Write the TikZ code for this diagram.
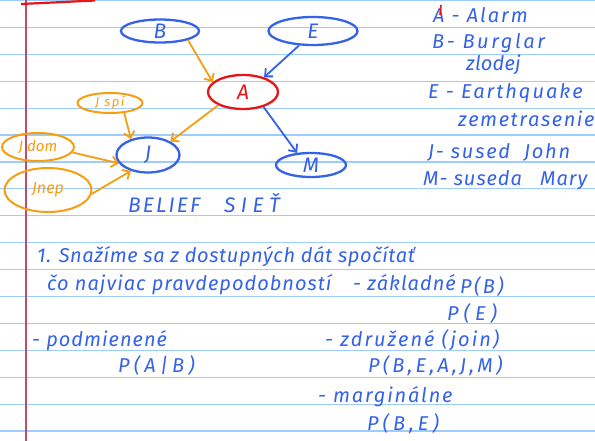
\documentclass[tikz,border=0pt]{standalone}
\usepackage{fontspec}
\setmainfont{Fira Sans}
\usetikzlibrary{shapes.geometric,arrows.meta}

\definecolor{ink}{RGB}{52,98,232}
\definecolor{pen}{RGB}{246,158,18}
\definecolor{alarmred}{RGB}{232,20,24}
\definecolor{rule}{RGB}{158,204,252}
\definecolor{margin}{RGB}{196,74,108}
\newcommand{\spc}[1]{\addfontfeature{LetterSpace=#1}}

\begin{document}
\begin{tikzpicture}[x=1pt,y=-1pt]
	 \tikzstyle{vertex}=[ellipse,draw,line width=2.3pt,inner sep=0pt,font=\fontsize{21}{21}\selectfont\itshape]
	 \tikzstyle{var}=[vertex,draw=ink,text=ink]
	 \tikzstyle{alarm}=[vertex,draw=alarmred,text=alarmred]
	 \tikzstyle{cause}=[vertex,draw=pen,text=pen,line width=2pt,font=\fontsize{13}{13}\selectfont\itshape]
	 \tikzstyle{edge}=[draw,line width=1.8pt,-{Straight Barb[length=6pt,width=11pt]}]
	 \tikzstyle{note}=[anchor=base west,inner sep=0pt,text=ink,font=\fontsize{20}{22}\selectfont\itshape]
	 \useasboundingbox[fill=white] (0,0) rectangle (595,441);
	 \foreach \k in {0,...,16}
	   \draw[rule,line width=1.2pt] (0,26.9*\k+0.6) -- (595,26.9*\k+0.6);
	 \draw[margin,line width=1.2pt] (26,0) -- (26,441);
	 \draw[alarmred,line width=2.2pt] (21,4) -- (95,0.5);
	 % belief network
	 \node[var,minimum width=78pt,minimum height=23pt] (b) at (160,31) {B};
	 \node[var,minimum width=89pt,minimum height=28pt] (e) at (313,31) {E};
	 \node[alarm,minimum width=70pt,minimum height=34pt] (a) at (243,92) {A};
	 \node[var,minimum width=63pt,minimum height=35pt] (j) at (148,155) {J};
	 \node[var,minimum width=70pt,minimum height=24pt] (m) at (311,165) {M};
	 \node[cause,minimum width=65pt,minimum height=20pt] (jspi) at (110,103) {{\spc{12}J spí}};
	 \node[cause,minimum width=72pt,minimum height=28pt,font=\fontsize{15}{15}\selectfont\itshape] (jdom) at (38,147) {J dom};
	 \node[cause,minimum width=87pt,minimum height=44pt,font=\fontsize{16}{16}\selectfont\itshape] (jnep) at (48,190) {Jnep};
	 \draw[edge,pen] (b.-18) -- (a.162);
	 \draw[edge,ink] (e.-134) -- (a.35);
	 \draw[edge,pen] (a.-152) -- (j.31);
	 \draw[edge,ink] (a.-36) -- (m.139);
	 \draw[edge,pen] (jspi.-35) -- (j.137);
	 \draw[edge,pen] (jdom.-9) -- (j.-164);
	 \draw[edge,pen] (jnep.-5) -- (j.-137);
	 \node[note,font=\fontsize{21}{21}\selectfont\itshape] (belief) at (128,213) {{\spc{10}BELIEF}};
	 \node[note,font=\fontsize{21}{21}\selectfont\itshape] (siet) at (224,213) {{\spc{26}SIEŤ}};
	 % legend
	 \node[note] (la) at (433,23) {{\spc{10}A - Alarm}};
	 \draw[alarmred,line width=1.6pt] (441,5) -- (440,15);
	 \node[note] (lb) at (432,49) {{\spc{13}B- Burglar}};
	 \node[note] (lz) at (466,71) {{\spc{1}zlodej}};
	 \node[note] (le) at (428,99) {{\spc{10}E - Earthquake}};
	 \node[note] (lzem) at (458,127) {{\spc{8}zemetrasenie}};
	 \node[note] (lj) at (428,159) {{\spc{9}J- sused\hspace{14pt}John}};
	 \node[note] (lm) at (423,186) {{\spc{5}M- suseda\hspace{18pt}Mary}};
	 % probabilities
	 \node[note] (t1) at (37,262) {{\spc{3}1. Snažíme sa z dostupných dát spočítať}};
	 \node[note] (t2) at (47,290) {{\spc{5}čo najviac pravdepodobností}};
	 \node[note] (zak) at (353,290) {{\spc{5}- základné}};
	 \node[note] (pb) at (460,293) {{\spc{12}P(B)}};
	 \node[note] (pe) at (447,320) {{\spc{25}P(E)}};
	 \node[note] (pod) at (32,346) {{\spc{5}- podmienené}};
	 \node[note] (pab) at (118,372) {{\spc{21}P(A|B)}};
	 \node[note] (zdr) at (325,346) {{\spc{10}- združené (join)}};
	 \node[note] (pj) at (368,372) {{\spc{16}P(B,E,A,J,M)}};
	 \node[note] (mar) at (318,402) {{\spc{9}- marginálne}};
	 \node[note] (pm) at (367,430) {{\spc{20}P(B,E)}};
 \end{tikzpicture}
\end{document}
